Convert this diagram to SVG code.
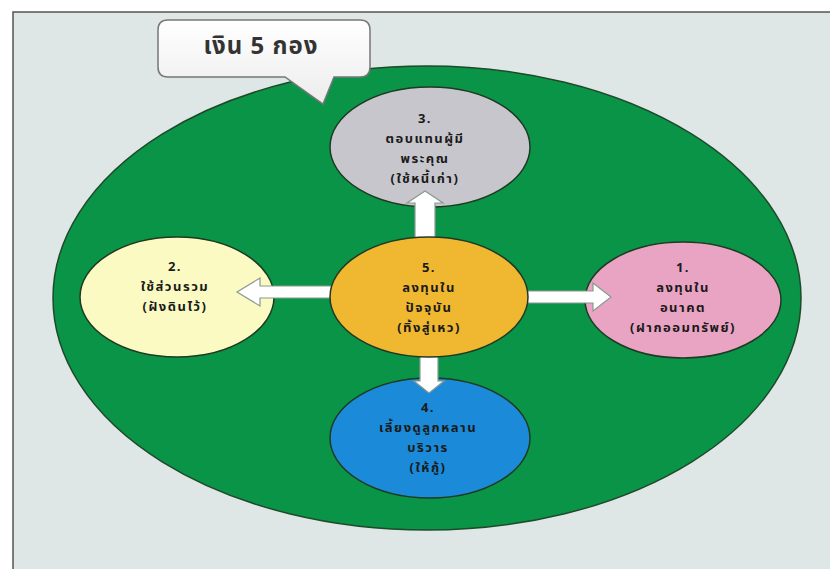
<svg xmlns="http://www.w3.org/2000/svg" width="830" height="569" viewBox="0 0 830 569">
<defs>
<linearGradient id="callg" x1="0" y1="0" x2="0" y2="1">
<stop offset="0" stop-color="#ffffff"/>
<stop offset="1" stop-color="#ececec"/>
</linearGradient>
</defs>
<style>
.node{stroke:#1f3a22;stroke-width:1.5}
.t{font-family:"Noto Sans Thai","Noto Sans","DejaVu Sans",sans-serif;font-weight:bold;font-size:13px;letter-spacing:1.5px;fill:#1a1a1a;text-anchor:middle}
.arr{fill:#ffffff;stroke:#8a9a90;stroke-width:1.2}
</style>
<rect x="0" y="0" width="830" height="569" fill="#ffffff"/>
<rect x="13" y="12" width="820" height="560" fill="#dfe6e6" stroke="#555" stroke-width="1.5"/>
<ellipse id="money-area" cx="427" cy="298" rx="374" ry="232" fill="#0a9448" stroke="#1d4a2a" stroke-width="1.5"/>
<g id="title">
<path d="M168,20 H360 Q370,20 370,30 V67 Q370,77 360,77 H334 L323,104 L285,77 H168 Q158,77 158,67 V30 Q158,20 168,20 Z" fill="url(#callg)" stroke="#777" stroke-width="1.5"/>
<text x="261" y="54" style="font-family:'Noto Sans Thai','Noto Sans','DejaVu Sans',sans-serif;font-weight:bold;font-size:24px;letter-spacing:1px;fill:#333;text-anchor:middle">เงิน 5 กอง</text>
</g>
<g id="node3">
<ellipse class="node" cx="430" cy="147" rx="100" ry="60" fill="#c6c6cc"/>
<text class="t" x="425" y="123">3.</text>
<text class="t" x="425" y="143">ตอบแทนผู้มี</text>
<text class="t" x="425" y="163">พระคุณ</text>
<text class="t" x="425" y="183">(ใช้หนี้เก่า)</text>
</g>
<g id="node2">
<ellipse class="node" cx="177" cy="297" rx="97" ry="60" fill="#fafac2"/>
<text class="t" x="175" y="271">2.</text>
<text class="t" x="175" y="291">ใช้ส่วนรวม</text>
<text class="t" x="175" y="311">(ฝังดินไว้)</text>
</g>
<g id="node1">
<ellipse class="node" cx="683" cy="300" rx="98" ry="58" fill="#e9a3c3"/>
<text class="t" x="683" y="272">1.</text>
<text class="t" x="683" y="292">ลงทุนใน</text>
<text class="t" x="683" y="312">อนาคต</text>
<text class="t" x="683" y="332">(ฝากออมทรัพย์)</text>
</g>
<g id="node4">
<ellipse class="node" cx="430" cy="438" rx="100" ry="60" fill="#1b8ad8"/>
<text class="t" x="428" y="412">4.</text>
<text class="t" x="428" y="432">เลี้ยงดูลูกหลาน</text>
<text class="t" x="428" y="452">บริวาร</text>
<text class="t" x="428" y="472">(ให้กู้)</text>
</g>
<g id="connectors">
<polygon class="arr" points="500,291 593,291 593,283 611,297 593,311 593,303 500,303"/>
<polygon class="arr" points="360,286 260,286 260,278 237,292 260,306 260,298 360,298"/>
<polygon class="arr" points="415,260 415,203 407,203 425,191 443,203 435,203 435,260"/>
<polygon class="arr" points="420,330 420,381 414,381 429,393 444,381 438,381 438,330"/>
</g>
<g id="node5">
<ellipse class="node" cx="429" cy="297" rx="99" ry="60" fill="#f0b731"/>
<text class="t" x="429" y="272">5.</text>
<text class="t" x="429" y="292">ลงทุนใน</text>
<text class="t" x="429" y="312">ปัจจุบัน</text>
<text class="t" x="429" y="332">(ทิ้งสู่เหว)</text>
</g>
</svg>
